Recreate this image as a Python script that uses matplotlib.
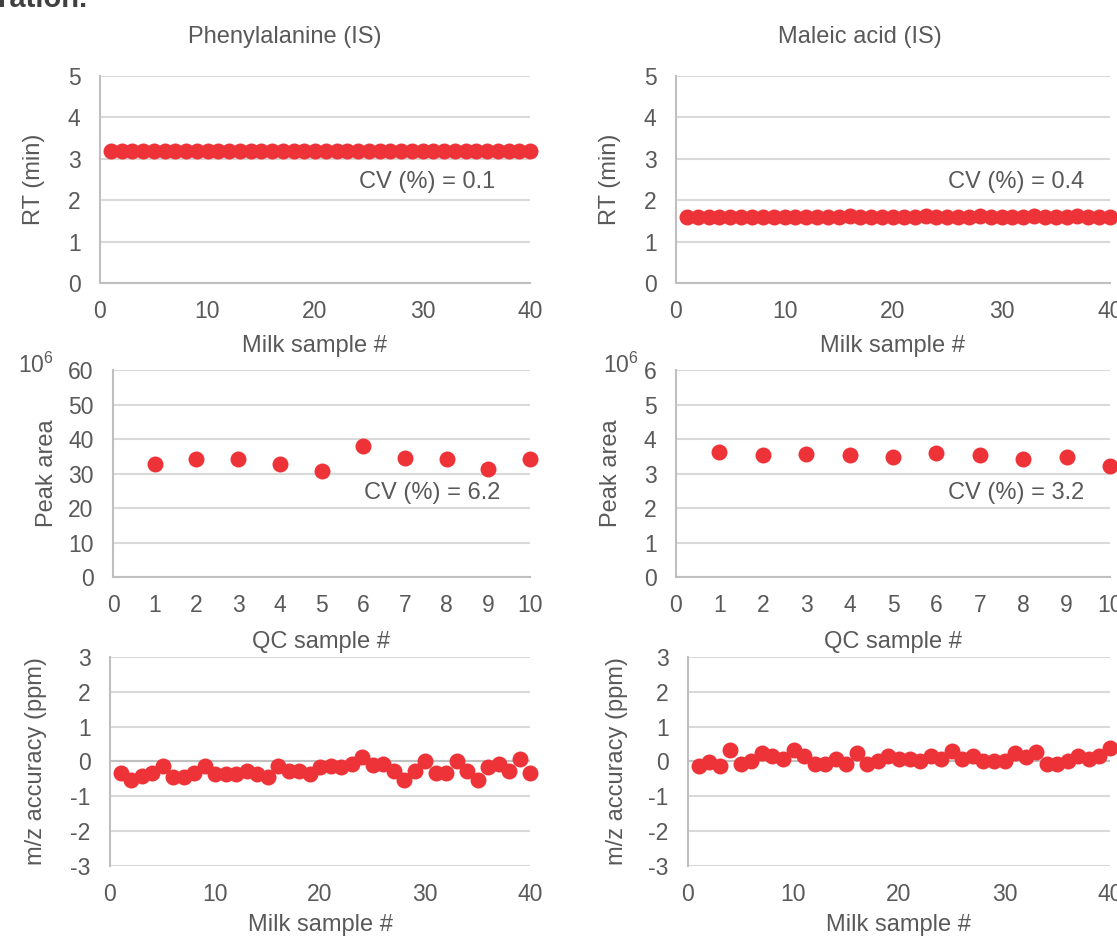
import matplotlib
matplotlib.use("Agg")
import matplotlib.pyplot as plt

# ---------------- data ----------------
milk_samples = list(range(1, 41))
qc_samples = list(range(1, 11))

phe_rt = [3.18, 3.18, 3.18, 3.18, 3.18, 3.18, 3.18, 3.18, 3.18, 3.18,
          3.18, 3.18, 3.18, 3.18, 3.18, 3.18, 3.18, 3.18, 3.18, 3.18,
          3.18, 3.18, 3.18, 3.18, 3.18, 3.18, 3.18, 3.18, 3.18, 3.18,
          3.18, 3.18, 3.18, 3.18, 3.18, 3.18, 3.18, 3.18, 3.19, 3.18]
mal_rt = [1.60, 1.60, 1.59, 1.59, 1.59, 1.60, 1.60, 1.59, 1.60, 1.60,
          1.60, 1.59, 1.60, 1.60, 1.60, 1.61, 1.59, 1.60, 1.60, 1.59,
          1.60, 1.59, 1.61, 1.60, 1.59, 1.59, 1.60, 1.61, 1.60, 1.60,
          1.59, 1.60, 1.61, 1.60, 1.59, 1.60, 1.61, 1.60, 1.59, 1.59]

phe_area = [32.8, 34.3, 34.3, 32.8, 30.6, 38.0, 34.6, 34.3, 31.2, 34.3]
mal_area = [3.62, 3.55, 3.57, 3.55, 3.48, 3.59, 3.55, 3.43, 3.48, 3.23]

phe_mz = [-0.33, -0.53, -0.43, -0.33, -0.14, -0.45, -0.45, -0.33, -0.14, -0.35,
          -0.35, -0.35, -0.26, -0.35, -0.45, -0.14, -0.26, -0.26, -0.35, -0.16,
          -0.14, -0.16, -0.06, 0.13, -0.11, -0.06, -0.26, -0.53, -0.26, 0.00,
          -0.33, -0.33, 0.00, -0.26, -0.53, -0.16, -0.06, -0.26, 0.08, -0.33]
mal_mz = [-0.14, -0.01, -0.14, 0.34, -0.06, 0.01, 0.23, 0.15, 0.08, 0.34,
          0.15, -0.08, -0.08, 0.08, -0.08, 0.23, -0.08, 0.01, 0.15, 0.08,
          0.08, 0.01, 0.15, 0.08, 0.29, 0.08, 0.15, 0.01, 0.01, 0.01,
          0.23, 0.13, 0.27, -0.06, -0.08, 0.01, 0.15, 0.08, 0.15, 0.40]

titles = ["Phenylalanine (IS)", "Maleic acid (IS)"]
cv_top = ["CV (%) = 0.1", "CV (%) = 0.4"]
cv_mid = ["CV (%) = 6.2", "CV (%) = 3.2"]

# ---------------- style ----------------
W, H = 1117, 938
TXT = "#595959"
GRID = "#D9D9D9"
AXC = "#BFBFBF"
RED = "#EE3338"
FONT = "Liberation Sans"
plt.rcParams["font.family"] = [FONT, "DejaVu Sans"]
plt.rcParams["mathtext.fontset"] = "custom"
plt.rcParams["mathtext.rm"] = FONT
plt.rcParams["mathtext.it"] = FONT
plt.rcParams["axes.unicode_minus"] = False

TICK_FS = 16.5
LAB_FS = 17

fig = plt.figure(figsize=(W / 100, H / 100), dpi=100)


def add_ax(l, r, t, b):
    return fig.add_axes([l / W, 1 - b / H, (r - l) / W, (b - t) / H])


def style(ax, xlim, xticks, ylim, yticks, zero_line=False):
    ax.set_xlim(*xlim)
    ax.set_ylim(*ylim)
    ax.set_xticks(xticks)
    ax.set_yticks(yticks)
    ax.tick_params(length=0, labelsize=TICK_FS, labelcolor=TXT)
    ax.tick_params(axis="x", pad=12)
    ax.tick_params(axis="y", pad=14)
    for s in ["top", "right"]:
        ax.spines[s].set_visible(False)
    ax.spines["left"].set_color(AXC)
    ax.spines["left"].set_linewidth(1.5)
    ax.spines["left"].set_zorder(3)
    if zero_line:
        ax.spines["bottom"].set_visible(False)
        ax.axhline(0, color=AXC, lw=1.5, zorder=2)
    else:
        ax.spines["bottom"].set_color(AXC)
        ax.spines["bottom"].set_linewidth(1.5)
    ax.yaxis.grid(True, color=GRID, lw=1.5, zorder=0)
    ax.set_axisbelow(True)


def dots(ax, x, y):
    ax.plot(x, y, "o", color=RED, ms=11.5, mec=RED, mew=0, clip_on=False, zorder=4)


# boxes in pixels: (left, right, top, bottom)
boxes = {
    "rt": [(100, 530, 76, 283), (676, 1110, 76, 283)],
    "area": [(113, 530, 370, 577), (676, 1110, 370, 577)],
    "mz": [(110, 530, 657, 866), (688, 1110, 657, 866)],
}
title_x = [285, 860]
ylabel_x = {"rt": [45, 621], "area": [58, 622], "mz": [47, 628]}
exp_right = [54, 639]

rt_data = [phe_rt, mal_rt]
area_data = [phe_area, mal_area]
mz_data = [phe_mz, mal_mz]
cv_top_pos = [(36.8, 2.45), (37.6, 2.45)]
cv_mid_pos = [(9.3, 24.3), (9.4, 2.43)]
area_ylim = [(0, 60, [0, 10, 20, 30, 40, 50, 60]), (0, 6, [0, 1, 2, 3, 4, 5, 6])]

for i in range(2):
    # --- retention time ---
    l, r, t, b = boxes["rt"][i]
    ax = add_ax(l, r, t, b)
    style(ax, (0, 40), [0, 10, 20, 30, 40], (0, 5), [0, 1, 2, 3, 4, 5])
    dots(ax, milk_samples, rt_data[i])
    ax.text(*cv_top_pos[i], cv_top[i], ha="right", va="center",
            fontsize=LAB_FS, color=TXT)
    ax.set_xlabel("Milk sample #", fontsize=LAB_FS, color=TXT, labelpad=9)
    ax.set_ylabel("RT (min)", fontsize=LAB_FS, color=TXT)
    ax.yaxis.set_label_coords((ylabel_x["rt"][i] - l) / (r - l), 0.5)
    fig.text(title_x[i] / W, 1 - 37 / H, titles[i], ha="center", va="center",
             fontsize=LAB_FS, color=TXT)

    # --- peak area ---
    l, r, t, b = boxes["area"][i]
    ax = add_ax(l, r, t, b)
    ymax = area_ylim[i][1]
    style(ax, (0, 10), list(range(0, 11)), (0, ymax), area_ylim[i][2])
    dots(ax, qc_samples, area_data[i])
    ax.text(*cv_mid_pos[i], cv_mid[i], ha="right", va="center",
            fontsize=LAB_FS, color=TXT)
    ax.set_xlabel("QC sample #", fontsize=LAB_FS, color=TXT, labelpad=10)
    ax.set_ylabel("Peak area", fontsize=LAB_FS, color=TXT)
    ax.yaxis.set_label_coords((ylabel_x["area"][i] - l) / (r - l), 0.5)
    fig.text(exp_right[i] / W, 1 - 373 / H, r"$\mathregular{10^6}$",
             ha="right", va="baseline", fontsize=TICK_FS, color=TXT)

    # --- m/z accuracy ---
    l, r, t, b = boxes["mz"][i]
    ax = add_ax(l, r, t, b)
    style(ax, (0, 40), [0, 10, 20, 30, 40], (-3, 3), [-3, -2, -1, 0, 1, 2, 3],
          zero_line=True)
    dots(ax, milk_samples, mz_data[i])
    ax.set_xlabel("Milk sample #", fontsize=LAB_FS, color=TXT, labelpad=6)
    ax.set_ylabel("m/z accuracy (ppm)", fontsize=LAB_FS, color=TXT)
    ax.yaxis.set_label_coords((ylabel_x["mz"][i] - l) / (r - l), 0.5)

# cut-off heading from the page above
fig.text(-2 / W, 1 - 7 / H, "ration.", ha="left", va="baseline",
         fontsize=21, fontweight="bold", color="#404040")

fig.savefig("out.png", dpi=100)
